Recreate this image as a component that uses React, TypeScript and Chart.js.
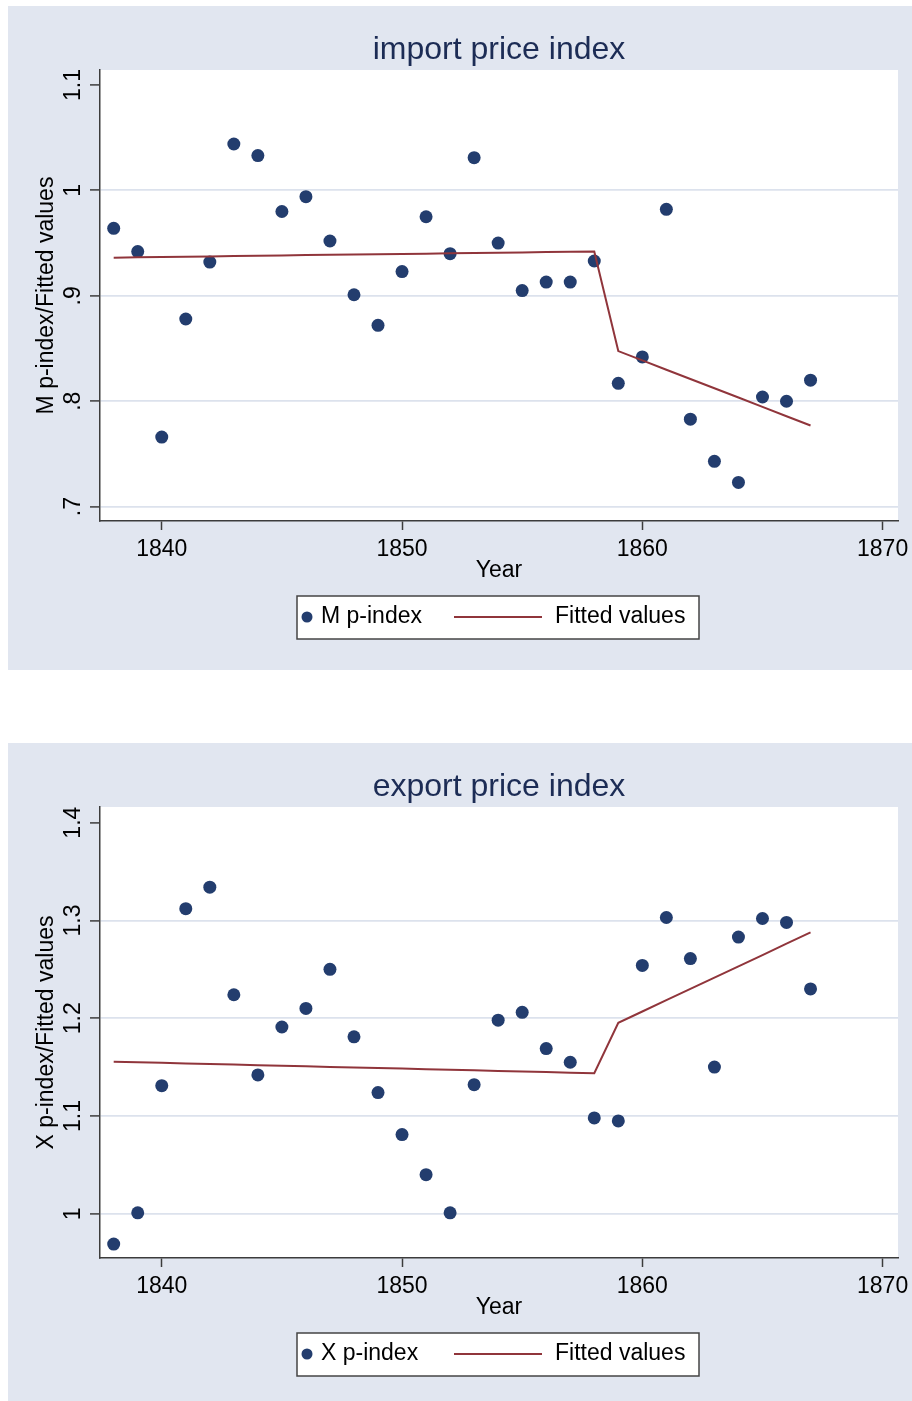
import React, { useEffect, useRef } from 'react';
import { Chart, registerables } from 'chart.js';

Chart.register(...registerables);

// ---------------- data ----------------
const years = [
  1838, 1839, 1840, 1841, 1842, 1843, 1844, 1845, 1846, 1847,
  1848, 1849, 1850, 1851, 1852, 1853, 1854, 1855, 1856, 1857,
  1858, 1859, 1860, 1861, 1862, 1863, 1864, 1865, 1866, 1867,
];

const importIndex = [
  0.964, 0.942, 0.766, 0.878, 0.932, 1.044, 1.033, 0.980, 0.994, 0.952,
  0.901, 0.872, 0.923, 0.975, 0.940, 1.031, 0.950, 0.905, 0.913, 0.913,
  0.933, 0.817, 0.842, 0.982, 0.783, 0.743, 0.723, 0.804, 0.800, 0.820,
];

const importFitted = [
  0.9362, 0.9365, 0.9368, 0.9371, 0.9374, 0.9377, 0.9380, 0.9383, 0.9386, 0.9389,
  0.9392, 0.9394, 0.9397, 0.9400, 0.9403, 0.9406, 0.9409, 0.9412, 0.9415, 0.9418,
  0.9421, 0.8476, 0.8388, 0.8299, 0.8211, 0.8123, 0.8035, 0.7946, 0.7858, 0.7770,
];

const exportIndex = [
  0.969, 1.001, 1.131, 1.312, 1.334, 1.224, 1.142, 1.191, 1.210, 1.250,
  1.181, 1.124, 1.081, 1.040, 1.001, 1.132, 1.198, 1.206, 1.169, 1.155,
  1.098, 1.095, 1.254, 1.303, 1.261, 1.150, 1.283, 1.302, 1.298, 1.230,
];

const exportFitted = [
  1.1556, 1.1550, 1.1544, 1.1538, 1.1532, 1.1526, 1.1520, 1.1514, 1.1508, 1.1502,
  1.1497, 1.1491, 1.1485, 1.1479, 1.1473, 1.1467, 1.1461, 1.1455, 1.1449, 1.1443,
  1.1437, 1.1954, 1.2069, 1.2185, 1.2300, 1.2416, 1.2531, 1.2646, 1.2762, 1.2877,
];

const xTicks = [1840, 1850, 1860, 1870];
const importYTicks = [0.7, 0.8, 0.9, 1.0, 1.1];
const importYTickLabels = ['.7', '.8', '.9', '1', '1.1'];
const exportYTicks = [1.0, 1.1, 1.2, 1.3, 1.4];
const exportYTickLabels = ['1', '1.1', '1.2', '1.3', '1.4'];

// ---------------- styles ----------------
const FONT = "'Liberation Sans', Arial, Helvetica, sans-serif";
const PANEL_BG = '#e1e6f0';
const TITLE_COLOR = '#1c2c55';
const POINT_COLOR = '#233d6e';
const LINE_COLOR = '#90353b';
const AXIS_COLOR = '#3c3c3c';
const GRID_COLOR = '#dce2ed';
const PANEL_W = 904;
const AREA_LEFT = 92;
const AREA_BOTTOM = 515;
const RIGHT_PAD = 14;

type PanelProps = {
  marginTop: number;
  height: number;
  title: string;
  yTitle: string;
  pointLabel: string;
  values: number[];
  fitted: number[];
  yTicks: number[];
  yTickLabels: string[];
  yMin: number;
  yMax: number;
};

function Panel(p: PanelProps) {
  const ref = useRef<HTMLCanvasElement | null>(null);

  useEffect(() => {
    if (!ref.current) return;
    const H = p.height;

    const plotBg = {
      id: 'plotBg',
      beforeDraw(chart: any) {
        const { ctx, chartArea: a } = chart;
        ctx.save();
        ctx.fillStyle = PANEL_BG;
        ctx.fillRect(0, 0, chart.width, chart.height);
        ctx.fillStyle = '#ffffff';
        ctx.fillRect(a.left, a.top, a.right - a.left, a.bottom - a.top);
        ctx.restore();
      },
    };

    const boxLegend = {
      id: 'boxLegend',
      afterDraw(chart: any) {
        const { ctx, chartArea: a } = chart;
        const ds = chart.data.datasets;
        const scatter = ds[1];
        const line = ds[0];
        const cx = (a.left + a.right) / 2;
        const top = a.bottom + 75;
        const bottom = a.bottom + 118;
        const mid = a.bottom + 96;
        ctx.save();
        ctx.fillStyle = '#ffffff';
        ctx.fillRect(cx - 202, top, 402, bottom - top);
        ctx.strokeStyle = '#444444';
        ctx.lineWidth = 1.5;
        ctx.strokeRect(cx - 202, top, 402, bottom - top);
        ctx.fillStyle = scatter.backgroundColor;
        ctx.beginPath();
        ctx.arc(cx - 192, mid, 5.5, 0, Math.PI * 2);
        ctx.fill();
        ctx.font = `23px ${FONT}`;
        ctx.fillStyle = '#000000';
        ctx.textBaseline = 'middle';
        ctx.textAlign = 'left';
        ctx.fillText(scatter.label, cx - 178, mid - 0.5);
        ctx.strokeStyle = line.borderColor;
        ctx.lineWidth = 2;
        ctx.beginPath();
        ctx.moveTo(cx - 45, mid);
        ctx.lineTo(cx + 43, mid);
        ctx.stroke();
        ctx.fillText(line.label, cx + 56, mid - 0.5);
        ctx.restore();
      },
    };

    const findLabel = (v: number) => {
      const i = p.yTicks.findIndex((t) => Math.abs(t - v) < 1e-9);
      return i >= 0 ? p.yTickLabels[i] : '';
    };

    let chart: any = null;
    try {
      chart = new Chart(ref.current, {
        type: 'scatter',
        data: {
          datasets: [
            {
              type: 'line',
              label: 'Fitted values',
              data: years.map((x, i) => ({ x, y: p.fitted[i] })),
              borderColor: LINE_COLOR,
              backgroundColor: LINE_COLOR,
              borderWidth: 2,
              pointRadius: 0,
              tension: 0,
              fill: false,
              order: 0,
            } as any,
            {
              type: 'scatter',
              label: p.pointLabel,
              data: years.map((x, i) => ({ x, y: p.values[i] })),
              backgroundColor: POINT_COLOR,
              borderColor: POINT_COLOR,
              borderWidth: 0,
              pointRadius: 6.5,
              order: 1,
            },
          ],
        },
        options: {
          animation: false,
          responsive: false,
          layout: { padding: { left: 0, right: RIGHT_PAD, top: 0, bottom: 0 } },
          plugins: {
            legend: { display: false },
            tooltip: { enabled: false },
            title: {
              display: true,
              text: p.title,
              fullSize: false,
              color: TITLE_COLOR,
              font: { family: FONT, size: 32, weight: 'normal' },
              padding: { top: 24.6, bottom: 1 },
            },
          },
          scales: {
            x: {
              type: 'linear',
              min: 1837.43,
              max: 1870.64,
              afterBuildTicks: (s: any) => {
                s.ticks = xTicks.map((v) => ({ value: v }));
              },
              afterFit: (s: any) => {
                s.height = H - AREA_BOTTOM;
                s.paddingLeft = 0;
                s.paddingRight = 0;
              },
              grid: {
                drawOnChartArea: false,
                drawTicks: true,
                tickLength: 9,
                tickColor: AXIS_COLOR,
                tickWidth: 1.5,
              },
              border: { display: true, color: AXIS_COLOR, width: 1.5 },
              ticks: {
                color: '#000000',
                font: { family: FONT, size: 23 },
                padding: 5.5,
                autoSkip: false,
                callback: (v: any) => String(v),
              },
              title: {
                display: true,
                text: 'Year',
                color: '#000000',
                font: { family: FONT, size: 23 },
                padding: { top: 0, bottom: H - 13.8 - 565 },
              },
            },
            y: {
              type: 'linear',
              min: p.yMin,
              max: p.yMax,
              afterBuildTicks: (s: any) => {
                s.ticks = p.yTicks.map((v) => ({ value: v }));
              },
              afterFit: (s: any) => {
                s.width = AREA_LEFT;
                s.paddingTop = 0;
                s.paddingBottom = 0;
              },
              grid: {
                color: (c: any) =>
                  c.index === p.yTicks.length - 1 ? 'rgba(0,0,0,0)' : GRID_COLOR,
                lineWidth: 1.8,
                drawTicks: true,
                tickLength: 10,
                tickColor: AXIS_COLOR,
                tickWidth: 1.5,
              },
              border: { display: true, color: AXIS_COLOR, width: 1.5 },
              ticks: {
                color: '#000000',
                font: { family: FONT, size: 23 },
                minRotation: 90,
                maxRotation: 90,
                crossAlign: 'center',
                padding: 0,
                autoSkip: false,
                callback: (v: any) => findLabel(Number(v)),
              },
              title: {
                display: true,
                text: p.yTitle,
                color: '#000000',
                font: { family: FONT, size: 23 },
                padding: { top: 25.2, bottom: 0 },
              },
            },
          },
        } as any,
        plugins: [plotBg, boxLegend],
      });
    } catch (e) {
      // keep page alive
    }

    return () => {
      if (chart) chart.destroy();
    };
  }, []);

  return (
    <div
      style={{
        marginTop: p.marginTop,
        marginLeft: 8,
        width: PANEL_W,
        height: p.height,
        background: PANEL_BG,
      }}
    >
      <canvas
        ref={ref}
        width={PANEL_W}
        height={p.height}
        style={{ display: 'block', width: PANEL_W, height: p.height }}
      />
    </div>
  );
}

const importPanel: PanelProps = {
  marginTop: 6,
  height: 664,
  title: 'import price index',
  yTitle: 'M p-index/Fitted values',
  pointLabel: 'M p-index',
  values: importIndex,
  fitted: importFitted,
  yTicks: importYTicks,
  yTickLabels: importYTickLabels,
  yMin: 0.6864,
  yMax: 1.1142,
};

const exportPanel: PanelProps = {
  marginTop: 73,
  height: 658,
  title: 'export price index',
  yTitle: 'X p-index/Fitted values',
  pointLabel: 'X p-index',
  values: exportIndex,
  fitted: exportFitted,
  yTicks: exportYTicks,
  yTickLabels: exportYTickLabels,
  yMin: 0.9548,
  yMax: 1.416,
};

export default function App() {
  useEffect(() => {
    document.body.style.margin = '0';
    document.documentElement.style.overflow = 'hidden';
  }, []);
  return (
    <div style={{ width: 912, height: 1401, overflow: 'hidden', paddingTop: 0.02 }}>
      <Panel {...importPanel} />
      <Panel {...exportPanel} />
    </div>
  );
}
